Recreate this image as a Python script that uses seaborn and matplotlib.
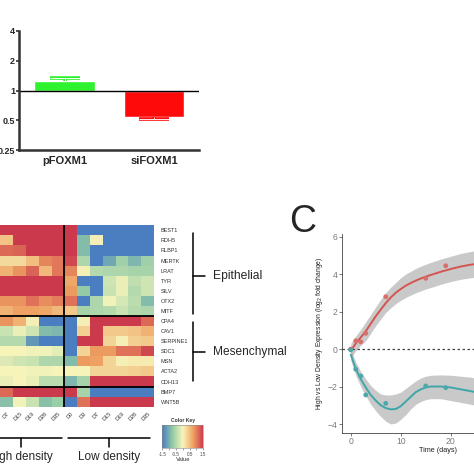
import numpy as np
import seaborn as sns
import matplotlib.pyplot as plt
from matplotlib.colors import LinearSegmentedColormap
from matplotlib.lines import Line2D

# ---- Panel A: fold change FOXM1 ----
grupos = ['pFOXM1', 'siFOXM1']
fold_change = [1.24, 0.54]
fold_error = [1.34, 0.51]          # extremo de la barra de error
colores_barras = ['#2ef22e', '#ff0a0a']
ticks_fold = [4, 2, 1, 0.5, 0.25]
ticks_fold_txt = ['4', '2', '1', '0.5', '0.25']

# ---- Panel B: heatmap ----
genes = ['BEST1', 'RDH5', 'RLBP1', 'MERTK', 'LRAT', 'TYR', 'SILV', 'OTX2', 'MITF',
         'CPA4', 'CAV1', 'SERPINE1', 'SDC1', 'MSN', 'ACTA2', 'CDH13', 'BMP7', 'WNT5B']
columnas_hd = ['D7', 'D15', 'D19', 'D28', 'D35']          # D0 y D3 quedan fuera del recorte
columnas_ld = ['D0', 'D3', 'D7', 'D15', 'D19', 'D28', 'D35']
valores_hd = [
    [1.5, 1.5, 1.5, 1.5, 1.5],
    [0.45, 1.5, 1.5, 1.5, 1.5],
    [1.15, 1.2, 1.5, 1.5, 1.5],
    [0.25, 0.25, 0.5, 0.95, 1.05],
    [0.6, 0.85, 1.2, 0.55, 1.05],
    [1.5, 1.5, 1.5, 1.5, 1.5],
    [1.5, 1.5, 1.5, 1.5, 1.5],
    [0.85, 0.85, 1.1, 0.9, 1.0],
    [0.6, 0.75, 0.75, 0.7, 0.55],
    [0.85, 0.6, 0.05, -1.5, -1.5],
    [-0.35, -0.1, -0.3, -0.9, -0.95],
    [-0.5, -0.5, -1.25, -1.5, -1.5],
    [0.0, 0.0, -0.05, -0.05, -0.15],
    [-0.2, -0.3, -0.35, -0.55, -0.55],
    [0.0, 0.0, -0.05, -0.05, 0.0],
    [-0.1, 0.0, -0.1, -0.45, -0.45],
    [1.15, 1.5, 1.5, 1.5, 1.5],
    [-0.85, -0.05, -0.35, -0.85, -0.7],
]
valores_ld = [
    [1.5, -1.5, -1.5, -1.5, -1.5, -1.5, -1.5],
    [1.5, -0.9, 0.05, -1.5, -1.5, -1.5, -1.5],
    [1.5, -0.9, -1.5, -1.5, -1.5, -1.5, -1.5],
    [1.4, -0.55, -1.5, -1.1, -0.65, -0.95, -0.65],
    [0.95, 0.05, -0.5, -0.55, -0.55, -0.6, -0.6],
    [0.7, -1.5, -1.5, -0.3, -0.1, -0.4, -0.3],
    [0.8, -0.75, -1.5, -0.35, -0.1, -0.5, -0.3],
    [1.1, -1.5, -0.55, -0.05, -0.25, -0.45, -0.9],
    [0.4, -0.6, -0.55, -0.5, -0.35, -0.5, -0.55],
    [-1.5, 0.05, 1.5, 1.5, 1.5, 1.5, 1.15],
    [-1.5, 0.35, 1.5, 0.4, 0.4, 0.45, 0.6],
    [-1.5, 1.5, 1.5, 0.3, 0.05, 0.35, 0.4],
    [-1.5, 0.3, 0.8, 0.8, 1.1, 1.1, 1.4],
    [-0.9, 0.8, 0.75, 0.3, 0.05, 0.1, 0.1],
    [0.0, 0.0, 0.3, 0.3, 0.3, 0.35, 0.4],
    [-0.95, -0.6, 1.5, 1.5, 1.5, 1.5, 1.5],
    [1.5, -0.6, -1.5, -1.5, -1.5, -1.5, -1.5],
    [-1.5, 1.1, 1.5, 1.5, 1.5, 1.5, 1.5],
]

# ---- Panel C: High vs Low density ----
dias = [0, 1, 2, 3, 7, 15, 19]
epitelial_pts = [0.0, 0.44, 0.38, 0.84, 2.79, 3.77, 4.44]
mesenq_pts = [-0.05, -1.08, -1.44, -2.45, -2.9, -1.97, -2.06]

dias_ajuste = [0, 1, 2, 3, 4, 5, 6, 7, 8, 9, 10, 11, 12, 13, 14, 15, 16, 18, 20, 22, 24, 26]
epitelial_fit = [-0.1, 0.3, 0.62, 0.95, 1.35, 1.75, 2.1, 2.45, 2.75, 3.0, 3.2, 3.38, 3.52, 3.65,
                 3.76, 3.86, 3.95, 4.12, 4.27, 4.4, 4.5, 4.56]
epitelial_lo = [-0.45, -0.1, 0.2, 0.45, 0.85, 1.25, 1.6, 1.95, 2.2, 2.42, 2.6, 2.75, 2.88, 3.0,
                3.1, 3.2, 3.28, 3.45, 3.6, 3.72, 3.8, 3.85]
epitelial_hi = [0.3, 0.7, 1.05, 1.45, 1.85, 2.25, 2.65, 3.0, 3.3, 3.55, 3.8, 4.0, 4.15, 4.3,
                4.42, 4.52, 4.62, 4.8, 4.95, 5.1, 5.2, 5.3]
mesenq_fit = [-0.3, -1.05, -1.6, -2.05, -2.45, -2.75, -3.0, -3.15, -3.22, -3.2, -3.05, -2.8,
              -2.55, -2.3, -2.15, -2.05, -2.0, -2.0, -2.05, -2.15, -2.25, -2.35]
mesenq_lo = [-0.6, -1.4, -2.0, -2.5, -2.95, -3.3, -3.6, -3.85, -4.0, -3.95, -3.75, -3.5,
             -3.2, -2.95, -2.8, -2.7, -2.65, -2.65, -2.75, -2.85, -2.95, -3.05]
mesenq_hi = [0.0, -0.7, -1.2, -1.6, -1.95, -2.2, -2.4, -2.45, -2.45, -2.4, -2.3, -2.1,
             -1.9, -1.7, -1.55, -1.45, -1.4, -1.38, -1.4, -1.45, -1.5, -1.6]

sns.set_style('white')
plt.rcParams['font.family'] = ['Liberation Sans', 'DejaVu Sans']

W = H = 474.0
def fx(px):
    return px / W
def fy(py):
    return 1 - py / H

fig = plt.figure(figsize=(4.74, 4.74), dpi=100)

# ----- A -----
ax_a = fig.add_axes([fx(19.3), fy(150), (199 - 19.3) / W, (150 - 31) / H])
sns.barplot(x=grupos, y=np.log2(fold_change), hue=grupos, palette=colores_barras,
            legend=False, width=0.68, saturation=1, ax=ax_a)
ax_a.set_xlim(-0.508, 1.503)
ax_a.set_ylim(-2, 2)
ax_a.axhline(0, color='black', lw=1)
for i in range(len(grupos)):
    y0, y1 = np.log2(fold_change[i]), np.log2(fold_error[i])
    for c, lw in [(colores_barras[i], 2.6), ('#f4fff4' if i == 0 else '#ffe8e8', 0.7)]:
        ax_a.plot([i, i], [y0, y1], color=c, lw=lw, solid_capstyle='butt')
        ax_a.plot([i - 0.168, i + 0.168], [y1, y1], color=c, lw=lw, solid_capstyle='butt')
ax_a.set_yticks(np.log2(ticks_fold))
ax_a.set_yticklabels(ticks_fold_txt, fontweight='bold', fontsize=6.5)
ax_a.set_xticks(range(len(grupos)))
ax_a.set_xticklabels(grupos, fontweight='bold', fontsize=8)
ax_a.tick_params(axis='y', length=2.5, width=1.2, pad=0.5, left=True, color='#333333')
ax_a.tick_params(axis='x', length=0, pad=4.5)
for s in ['top', 'right']:
    ax_a.spines[s].set_visible(False)
for s in ['left', 'bottom']:
    ax_a.spines[s].set_color('#333333')
    ax_a.spines[s].set_linewidth(1.8)
ax_a.set_xlabel('')
ax_a.set_ylabel('')

# ----- B -----
cmap = LinearSegmentedColormap.from_list(
    'clave', ['#4a7ec1', '#93cba6', '#f7f5bb', '#eea262', '#cb3a4c'])
matriz = np.hstack([np.array(valores_hd), np.array(valores_ld)])
ax_b = fig.add_axes([fx(0.3), fy(406.7), 153.7 / W, 181.4 / H])
ax_key = fig.add_axes([fx(162.3), fy(448.3), 41 / W, 23.3 / H])
sns.heatmap(matriz, cmap=cmap, vmin=-1.5, vmax=1.5, ax=ax_b, cbar_ax=ax_key,
            cbar_kws={'orientation': 'horizontal'},
            xticklabels=columnas_hd + columnas_ld, yticklabels=genes)
ax_b.axvline(len(columnas_hd), color='black', lw=1.3)
ax_b.axhline(9, color='black', lw=1.3)
ax_b.axhline(16, color='black', lw=1.3)
ax_b.yaxis.tick_right()
ax_b.tick_params(axis='y', length=0, pad=5, labelsize=4, labelcolor='#333333', labelrotation=0)
ax_b.tick_params(axis='x', length=0, pad=3, labelsize=4, labelcolor='#333333')
plt.setp(ax_b.get_xticklabels(), rotation=45, ha='right', rotation_mode='anchor')

cbar = ax_b.collections[0].colorbar
cbar.set_ticks([-1.5, -1, -0.5, 0, 0.5, 1, 1.5])
cbar.set_ticklabels(['-1.5', '', '-0.5', '', '0.5', '', '1.5'])
cbar.outline.set_linewidth(0.4)
cbar.outline.set_edgecolor('#888888')
ax_key.tick_params(length=1.5, width=0.4, pad=1, labelsize=3.3, color='#555555', labelcolor='#444444')
ax_key.set_title('Color Key', fontsize=3.6, fontweight='bold', pad=2, color='#333333')
ax_key.set_xlabel('Value', fontsize=4.2, labelpad=0.5, color='#333333')

# corchetes y textos de grupos
def linea(x0, y0, x1, y1):
    fig.add_artist(Line2D([fx(x0), fx(x1)], [fy(y0), fy(y1)], color='black', lw=1.1))

linea(-5, 437.7, 61.7, 437.7)
linea(20.7, 437.7, 20.7, 446.7)
linea(68.3, 437.7, 150, 437.7)
linea(109.3, 437.7, 109.3, 446.7)
fig.text(fx(20.2), fy(456.7), 'High density', ha='center', va='center', fontsize=8.5)
fig.text(fx(109.3), fy(456.7), 'Low density', ha='center', va='center', fontsize=8.5)

linea(193.3, 233.3, 193.3, 314)
linea(193.3, 275.7, 205, 275.7)
linea(193.3, 322.3, 193.3, 380.7)
linea(193.3, 351.7, 205, 351.7)
fig.text(fx(213.3), fy(275.7), 'Epithelial', ha='left', va='center', fontsize=8.7)
fig.text(fx(213.3), fy(351.7), 'Mesenchymal', ha='left', va='center', fontsize=8.6)

# ----- C -----
fig.text(fx(302.5), fy(222), 'C', ha='center', va='center', fontsize=27)
ax_c = fig.add_axes([fx(342), fy(433), 192.5 / W, (433 - 234.3) / H])
rojo, teal = '#d4544f', '#3fa6aa'
ax_c.fill_between(dias_ajuste, epitelial_lo, epitelial_hi, color='#959595', alpha=0.5, lw=0)
ax_c.fill_between(dias_ajuste, mesenq_lo, mesenq_hi, color='#959595', alpha=0.5, lw=0)
ax_c.axhline(0, color='#444444', lw=0.9, ls=(0, (2, 2)))
sns.lineplot(x=dias_ajuste, y=epitelial_fit, color=rojo, lw=1.4, ax=ax_c)
sns.lineplot(x=dias_ajuste, y=mesenq_fit, color=teal, lw=1.4, ax=ax_c)
sns.scatterplot(x=dias, y=epitelial_pts, color='#d96f6a', s=12, edgecolor='none', ax=ax_c, zorder=5)
sns.scatterplot(x=dias, y=mesenq_pts, color='#4aa8ab', s=12, edgecolor='none', ax=ax_c, zorder=5)
ax_c.set_xlim(-1.75, 36.75)
ax_c.set_ylim(-4.48, 6.12)
ax_c.set_xticks([0, 10, 20, 30])
ax_c.set_yticks([-4, -2, 0, 2, 4, 6])
ax_c.tick_params(length=2, width=0.5, pad=1, labelsize=6.2, color='#444444', labelcolor='#7a7a7a',
                 bottom=True, left=True)
for s in ['top', 'right']:
    ax_c.spines[s].set_visible(False)
for s in ['left', 'bottom']:
    ax_c.spines[s].set_color('#444444')
    ax_c.spines[s].set_linewidth(0.6)
ax_c.set_xlabel('Time (days)', fontsize=5.2, labelpad=0.5, color='#222222')
ax_c.set_ylabel('High vs Low Density Expression (log$_2$ fold change)', fontsize=4.9,
                labelpad=2, color='#222222')

fig.savefig('out.png', dpi=100)
